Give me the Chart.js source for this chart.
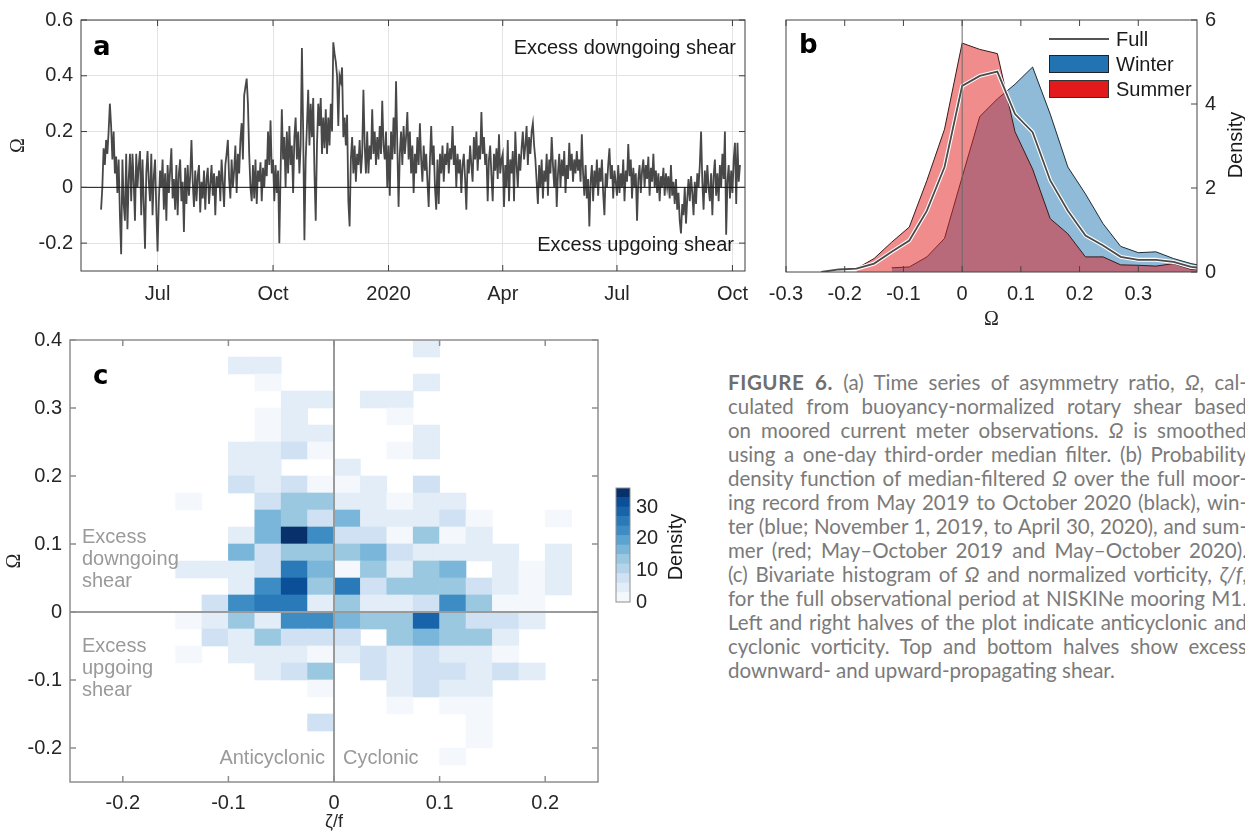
<!DOCTYPE html>
<html>
<head>
<meta charset="utf-8">
<script src="https://cdn.jsdelivr.net/npm/chart.js@4.4.1/dist/chart.umd.min.js"></script>
<style>
  body { margin: 0; width: 1245px; height: 833px; background: #fff; position: relative; overflow: hidden;
         font-family: 'Liberation Sans', Arial, sans-serif; color: #1a1a1a; }
  canvas { position: absolute; }
  .t { position: absolute; white-space: nowrap; font-size: 20px; line-height: 22px; }
  .panel { font-family: 'DejaVu Sans', sans-serif; font-weight: bold; font-size: 26px; line-height: 28px; color: #000; }
  .gray { color: #9a9a9a; }
  .vert { transform: rotate(-90deg); transform-origin: center center; }
  #caption { position: absolute; left: 728px; top: 370px; width: 519px; font-family: Lato, 'Open Sans', sans-serif;
             font-size: 20.5px; color: #7a7a7a; }
  #caption .ln { height: 24px; line-height: 24px; overflow: hidden; text-align: justify; text-align-last: justify; }
  #caption .ln.last { text-align-last: left; }
  #caption b { color: #6e6e6e; letter-spacing: 0.6px; }
</style>
</head>
<body>

<canvas id="chartA" width="760" height="310" style="left:0;top:0"></canvas>
<canvas id="chartB" width="490" height="335" style="left:755px;top:0"></canvas>
<canvas id="chartC" width="610" height="513" style="left:0;top:320px"></canvas>
<canvas id="chartBar" width="100" height="150" style="left:610px;top:470px"></canvas>

<!-- panel a annotations -->
<div class="t panel" style="left:93px;top:32px">a</div>
<div class="t" style="left:436px;top:36px;width:300px;text-align:right">Excess downgoing shear</div>
<div class="t" style="left:436px;top:233px;width:298px;text-align:right">Excess upgoing shear</div>

<!-- panel b annotations -->
<div class="t panel" style="left:799px;top:30px">b</div>
<div style="position:absolute;left:1049px;top:38px;width:60px;height:2px;background:#555"></div>
<div class="t" style="left:1116px;top:28px">Full</div>
<div style="position:absolute;left:1049px;top:55px;width:58px;height:16px;background:#2173b2;border:1px solid #222"></div>
<div class="t" style="left:1116px;top:53px">Winter</div>
<div style="position:absolute;left:1049px;top:80px;width:58px;height:16px;background:#e31a1c;border:1px solid #333"></div>
<div class="t" style="left:1116px;top:78px">Summer</div>
<div class="t vert" style="left:1200px;top:134px;width:70px;text-align:center">Density</div>

<!-- panel c annotations -->
<div class="t panel" style="left:93px;top:361px">c</div>
<div class="t gray" style="left:82px;top:525px">Excess<br>downgoing<br>shear</div>
<div class="t gray" style="left:82px;top:634px">Excess<br>upgoing<br>shear</div>
<div class="t gray" style="left:125px;top:746px;width:200px;text-align:right">Anticyclonic</div>
<div class="t gray" style="left:343px;top:746px">Cyclonic</div>
<div class="t vert" style="left:640px;top:536px;width:70px;text-align:center">Density</div>

<div id="caption">
  <div class="ln"><b>FIGURE 6.</b> (a) Time series of asymmetry ratio, <i>Ω</i>, cal-</div>
  <div class="ln">culated from buoyancy-normalized rotary shear based</div>
  <div class="ln">on moored current meter observations. <i>Ω</i> is smoothed</div>
  <div class="ln">using a one-day third-order median filter. (b) Probability</div>
  <div class="ln">density function of median-filtered <i>Ω</i> over the full moor-</div>
  <div class="ln">ing record from May 2019 to October 2020 (black), win-</div>
  <div class="ln">ter (blue; November 1, 2019, to April 30, 2020), and sum-</div>
  <div class="ln">mer (red; May–October 2019 and May–October 2020).</div>
  <div class="ln">(c) Bivariate histogram of <i>Ω</i> and normalized vorticity, <i>ζ/f</i>,</div>
  <div class="ln">for the full observational period at NISKINe mooring M1.</div>
  <div class="ln">Left and right halves of the plot indicate anticyclonic and</div>
  <div class="ln">cyclonic vorticity. Top and bottom halves show excess</div>
  <div class="ln last">downward- and upward-propagating shear.</div>
</div>

<script>
// ---------- panel a: daily Ω, one array per month (first value is 17 May 2019)
const omegaMay19 = [-0.08, 0.0, 0.14, 0.08, 0.17, 0.12, 0.2, 0.3, 0.22, 0.1, 0.2, 0.05, 0.11, -0.02, 0.1];
const omegaJun19 = [-0.1, -0.24, 0.1, -0.06, -0.12, 0.12, -0.15, 0.03, 0.12, -0.05, 0.12, 0.02, -0.12, 0.12, 0.0,
                    0.08, 0.13, -0.1, 0.1, -0.06, -0.22, 0.05, 0.13, 0.02, -0.05, 0.12, -0.1, 0.04, 0.1, -0.08];
const omegaJul19 = [-0.23, -0.05, 0.06, 0.0, 0.1, -0.08, 0.05, -0.12, 0.08, -0.02, 0.06, 0.14, -0.04, 0.03, -0.08,
                    0.08, -0.1, 0.05, 0.1, -0.05, 0.02, -0.16, 0.07, -0.06, 0.08, -0.03, 0.04, 0.17, 0.02, -0.07, 0.06];
const omegaAug19 = [-0.05, 0.04, 0.08, -0.09, 0.02, -0.04, 0.06, -0.08, 0.03, 0.07, -0.06, 0.01, 0.08, -0.03, 0.05,
                    -0.1, 0.04, 0.0, 0.06, -0.05, 0.1, 0.02, -0.07, 0.08, 0.12, 0.17, 0.03, -0.04, 0.1, 0.0, 0.06];
const omegaSep19 = [0.15, -0.02, 0.12, 0.05, 0.17, 0.23, 0.1, 0.33, 0.36, 0.39, 0.3, 0.12, 0.0, -0.05, 0.08,
                    -0.04, 0.1, -0.06, 0.06, 0.02, 0.09, -0.05, 0.07, 0.0, 0.1, 0.04, 0.2, 0.08, 0.24, 0.05];
const omegaOct19 = [0.1, -0.05, 0.08, -0.02, 0.06, -0.2, 0.05, 0.28, 0.1, 0.18, 0.0, 0.2, 0.05, 0.22, 0.08,
                    0.15, -0.02, 0.18, 0.25, 0.1, 0.2, 0.05, 0.15, 0.5, 0.2, -0.19, 0.1, 0.22, 0.35, 0.15, 0.3];
const omegaNov19 = [0.18, 0.32, 0.05, -0.12, 0.15, 0.3, 0.22, 0.32, 0.12, 0.25, 0.14, 0.28, 0.12, 0.25, 0.15,
                    0.3, 0.2, 0.52, 0.48, 0.45, 0.4, 0.22, 0.4, 0.38, 0.43, 0.18, 0.25, 0.15, 0.26, -0.05];
const omegaDec19 = [-0.14, 0.1, 0.18, 0.05, 0.15, 0.02, 0.12, 0.08, 0.17, 0.05, 0.12, 0.35, 0.15, 0.05, 0.2,
                    0.05, 0.15, 0.1, 0.28, 0.12, 0.2, 0.08, 0.18, 0.1, 0.22, 0.12, 0.31, 0.15, 0.1, 0.2, 0.0];
const omegaJan20 = [0.15, -0.03, 0.2, 0.1, 0.25, 0.12, 0.38, 0.15, -0.07, 0.12, 0.2, 0.08, 0.22, 0.12, 0.18,
                    0.27, 0.1, 0.2, 0.05, 0.15, -0.02, 0.12, 0.05, 0.18, 0.08, 0.23, 0.1, 0.02, 0.15, 0.06, 0.12];
const omegaFeb20 = [0.02, -0.07, 0.1, 0.22, 0.08, 0.15, 0.0, -0.08, 0.1, -0.06, 0.12, 0.05, 0.15, 0.02, 0.12,
                    0.08, 0.16, 0.05, 0.14, 0.1, 0.22, 0.08, 0.15, 0.0, 0.12, 0.05, 0.1, -0.02, 0.08];
const omegaMar20 = [0.12, 0.03, -0.08, 0.1, 0.05, 0.15, 0.08, 0.02, 0.18, 0.1, 0.2, 0.06, 0.15, 0.1, 0.27,
                    0.12, 0.18, 0.08, 0.12, -0.05, 0.1, 0.15, 0.04, -0.05, 0.12, 0.06, 0.14, 0.03, 0.19, 0.05, 0.1];
const omegaApr20 = [0.12, -0.07, 0.08, 0.0, 0.17, -0.05, 0.1, 0.05, 0.13, -0.05, 0.2, 0.08, 0.0, 0.12, 0.06,
                    0.14, 0.2, 0.1, 0.15, 0.22, 0.08, 0.18, 0.12, 0.2, 0.23, 0.15, 0.1, 0.02, -0.06, 0.08];
const omegaMay20 = [0.0, 0.1, -0.04, 0.06, 0.02, 0.12, -0.03, 0.1, 0.05, 0.18, 0.08, 0.0, 0.1, -0.07, 0.05,
                    0.12, 0.0, 0.1, 0.04, 0.13, -0.02, 0.08, 0.03, 0.16, 0.06, 0.12, 0.02, 0.1, 0.05, 0.13, 0.06];
const omegaJun20 = [0.1, 0.02, 0.19, 0.05, -0.03, 0.08, -0.04, 0.03, -0.14, 0.02, 0.08, -0.05, 0.06, 0.0, 0.1,
                    -0.03, 0.07, 0.02, 0.1, -0.02, -0.1, 0.05, 0.0, 0.08, 0.14, 0.03, 0.08, -0.04, 0.06, 0.02];
const omegaJul20 = [-0.03, 0.08, -0.02, 0.05, 0.0, 0.1, -0.05, 0.06, 0.02, 0.155, 0.04, 0.1, -0.04, 0.07, 0.0,
                    0.05, -0.12, 0.03, 0.08, -0.02, 0.06, 0.1, 0.0, 0.08, 0.03, 0.11, -0.03, 0.07, 0.02, 0.12, 0.0];
const omegaAug20 = [0.06, -0.02, 0.05, -0.05, 0.04, 0.0, 0.07, -0.03, 0.05, 0.0, 0.04, -0.04, 0.08, -0.03, 0.02,
                    -0.06, 0.03, -0.08, -0.02, -0.12, -0.165, -0.06, -0.1, 0.0, -0.13, -0.04, 0.03, -0.05, 0.04, -0.02, -0.1];
const omegaSep20 = [0.02, -0.06, 0.05, 0.0, 0.08, 0.2, 0.02, -0.08, 0.06, -0.02, 0.08, 0.0, -0.05, 0.05, -0.1,
                    0.04, 0.1, -0.03, 0.05, -0.05, 0.08, 0.0, 0.12, 0.03, 0.2, -0.17, 0.02, 0.08, -0.04, 0.06];
const omegaOct20 = [-0.02, 0.1, 0.16, -0.06, 0.16, 0.02, 0.08];

const firstDay = 16; // days since 1 May 2019
const dayTicks = [61, 153, 245, 336, 427, 519];
const dayTickLabels = ['Jul', 'Oct', '2020', 'Apr', 'Jul', 'Oct'];
const omegaTicksA = [-0.2, 0, 0.2, 0.4, 0.6];

// ---------- panel b: PDFs of Ω
const pdfBins   = [-0.24, -0.21, -0.18, -0.15, -0.12, -0.09, -0.06, -0.03, 0, 0.03, 0.06, 0.09,
                   0.12, 0.15, 0.18, 0.21, 0.24, 0.27, 0.3, 0.33, 0.36, 0.39, 0.42];
const pdfFull   = [0, 0.06, 0.08, 0.2, 0.48, 0.75, 1.46, 2.5, 4.43, 4.67, 4.77, 3.76,
                   3.33, 2.18, 1.46, 0.87, 0.63, 0.36, 0.29, 0.29, 0.24, 0.12, 0.08];
const pdfWinter = [null, null, null, null, 0.1, 0.12, 0.36, 0.8, 2.26, 3.7, 4.12, 4.47,
                   4.88, 3.76, 2.5, 1.86, 1.15, 0.61, 0.46, 0.48, 0.32, 0.2, 0.12];
const pdfSummer = [null, null, 0.08, 0.32, 0.71, 1.07, 2.18, 3.4, 5.45, 5.3, 5.2, 3.34,
                   2.45, 1.27, 0.91, 0.36, 0.36, 0.17, 0.16, 0.14, 0.2, 0.06, 0.04];
const pdfTicksX = [-0.3, -0.2, -0.1, 0, 0.1, 0.2, 0.3];
const pdfTicksY = [0, 2, 4, 6];

// ---------- panel c: bivariate histogram (rows top to bottom, columns left to right)
const vortBinLeft = [-0.25, -0.225, -0.2, -0.175, -0.15, -0.125, -0.1, -0.075, -0.05, -0.025,
                     0, 0.025, 0.05, 0.075, 0.1, 0.125, 0.15, 0.175, 0.2, 0.225];
const omegaBinBottom = [0.375, 0.35, 0.325, 0.3, 0.275, 0.25, 0.225, 0.2, 0.175, 0.15, 0.125, 0.1, 0.075,
                        0.05, 0.025, 0, -0.025, -0.05, -0.075, -0.1, -0.125, -0.15, -0.175, -0.2, -0.225, -0.25];
const binWidth = 0.025;
const histDensity = [
  [0,0,0,0, 0,0,0,0,0,0,     0,0,0,4,0,0,0,0,0,0],
  [0,0,0,0, 0,0,4,4,0,0,     0,0,0,0,0,0,0,0,0,0],
  [0,0,0,0, 0,0,0,1.5,0,0,   0,0,0,4,0,0,0,0,0,0],
  [0,0,0,0, 0,0,0,0,4,4,     0,4,4,0,0,0,0,0,0,0],
  [0,0,0,0, 0,0,0,1.5,4,0,   0,0,1.5,0,0,0,0,0,0,0],
  [0,0,0,0, 0,0,0,1.5,4,4,   0,0,0,4,0,0,0,0,0,0],
  [0,0,0,0, 0,0,4,4,7,1.5,   0,0,1.5,4,0,0,0,0,0,0],
  [0,0,0,0, 0,0,4,4,0,0,     4,0,0,0,0,0,0,0,0,0],
  [0,0,0,0, 0,0,7,4,7,1.5,   1.5,4,0,7,0,0,0,0,0,0],
  [0,0,0,0, 1.5,0,0,7,13,13, 4,4,1.5,4,4,0,0,0,0,0],
  [0,0,0,0, 0,0,0,17,13,7,   17,4,4,4,7,1.5,0,0,1.5,0],
  [0,0,0,0, 0,0,4,17,35,23,  8,8,1.5,13,1.5,4,0,0,0,0],
  [0,0,0,0, 0,0,17,7,13,13,  13,17,7,4,4,4,4,0,4,0],
  [0,0,0,0, 4,4,4,7,26,17,   2.5,13,4,13,17,0,4,1.5,4,0],
  [0,0,0,0, 0,0,4,23,31,13,  26,7,13,13,13,8,4,1.5,4,0],
  [0,0,0,0, 0,7,22,26,26,4,  13,4,4,7,22,13,1.5,1.5,0,0],
  [0,0,0,0, 1.5,4,13,4,23,22, 17,13,13,27,13,7,7,4,0,0],
  [0,0,0,0, 0,7,4,13,7,7,    7,0,13,17,13,13,4,0,0,0],
  [0,0,0,0, 1.5,0,4,4,4,1.5, 4,7,4,7,4,4,1.5,0,0,0],
  [0,0,0,0, 0,0,0,4,7,13,    0,7,4,7,7,4,7,4,0,0],
  [0,0,0,0, 0,0,0,0,0,1.5,   0,0,4,7,4,4,0,0,0,0],
  [0,0,0,0, 0,0,0,0,0,0,     0,0,1.5,0,1.5,1.5,0,0,0,0],
  [0,0,0,0, 0,0,0,0,0,7,     0,0,0,0,0,1.5,0,0,0,0],
  [0,0,0,0, 0,0,0,0,0,0,     0,0,0,0,0,1.5,0,0,0,0],
  [0,0,0,0, 0,0,0,0,0,0,     0,0,0,0,1.5,0,0,0,0,0],
  [0,0,0,0, 0,0,0,0,0,0,     0,0,0,0,0,0,0,0,0,0]
];
const vortTicks = [-0.2, -0.1, 0, 0.1, 0.2];
const omegaTicksC = [-0.2, -0.1, 0, 0.1, 0.2, 0.3, 0.4];

// ---------- colour bar
const densityLevels = [0, 3, 6, 9, 12, 15, 18, 21, 24, 27, 30, 33, 36];
const densityColors = ['#f4f8fd', '#e2edf8', '#cfe1f2', '#b5d4e9', '#9ac8e0', '#7ab6d9',
                       '#5ba3d0', '#3d8dc4', '#2a7ab9', '#1764ab', '#0a4f97', '#08306b'];
const densityTicks = [0, 10, 20, 30];

const tickFont = { family: "'Liberation Sans', Arial, sans-serif", size: 20 };
const serifFont = { family: "'Liberation Serif', 'DejaVu Serif', serif", size: 20 };
const tickColor = '#262626';
const fmt = v => String(Math.round(v * 10) / 10);

function fixedTicks(values) {
    return scale => { scale.ticks = values.map(v => ({ value: v })); };
}

// box around the plot, inward tick marks, zero lines
function axesFrame(opts) {
    return {
        id: 'axesFrame',
        afterDatasetsDraw(chart) {
            const { ctx, chartArea: a } = chart;
            ctx.save();
            (opts.zeroLines || []).forEach(z => {
                const p = chart.scales[z.axis].getPixelForValue(0);
                ctx.strokeStyle = z.color;
                ctx.lineWidth = z.width;
                ctx.beginPath();
                if (z.axis === 'x') { ctx.moveTo(p, a.top); ctx.lineTo(p, a.bottom); }
                else { ctx.moveTo(a.left, p); ctx.lineTo(a.right, p); }
                ctx.stroke();
            });
            ctx.restore();
        },
        afterDraw(chart) {
            const { ctx, chartArea: a } = chart;
            const len = 6;
            ctx.save();
            ctx.strokeStyle = opts.color;
            ctx.lineWidth = opts.width || 1;
            ctx.strokeRect(a.left, a.top, a.right - a.left, a.bottom - a.top);
            ctx.beginPath();
            const xs = chart.scales.x;
            xs.ticks.forEach(t => {
                const p = xs.getPixelForValue(t.value);
                ctx.moveTo(p, a.bottom); ctx.lineTo(p, a.bottom - len);
                ctx.moveTo(p, a.top); ctx.lineTo(p, a.top + len);
            });
            const ys = chart.scales.y;
            ys.ticks.forEach(t => {
                const p = ys.getPixelForValue(t.value);
                if (opts.ySides.includes('left')) { ctx.moveTo(a.left, p); ctx.lineTo(a.left + len, p); }
                if (opts.ySides.includes('right')) { ctx.moveTo(a.right, p); ctx.lineTo(a.right - len, p); }
            });
            ctx.stroke();
            ctx.restore();
        }
    };
}

const baseOptions = {
    responsive: false,
    animation: false,
    events: [],
    plugins: { legend: { display: false }, tooltip: { enabled: false } }
};

// ---------- panel a
const monthlyOmega = [omegaMay19, omegaJun19, omegaJul19, omegaAug19, omegaSep19, omegaOct19,
                      omegaNov19, omegaDec19, omegaJan20, omegaFeb20, omegaMar20, omegaApr20,
                      omegaMay20, omegaJun20, omegaJul20, omegaAug20, omegaSep20, omegaOct20];
const omegaSeries = [].concat(...monthlyOmega).map((v, i) => ({ x: firstDay + i, y: v }));

new Chart(document.getElementById('chartA'), {
    type: 'line',
    data: { datasets: [{ data: omegaSeries, borderColor: '#484848', borderWidth: 1.8, pointRadius: 0, tension: 0 }] },
    options: {
        ...baseOptions,
        layout: { padding: { left: 0, top: 19, right: 15, bottom: 0 } },
        scales: {
            x: {
                type: 'linear', min: 0, max: 529,
                afterBuildTicks: fixedTicks(dayTicks),
                afterFit: s => { s.height = 39; },
                ticks: { callback: v => dayTickLabels[dayTicks.indexOf(v)], font: tickFont, color: tickColor,
                         padding: 11, maxRotation: 0, autoSkip: false },
                grid: { color: '#e3e3e3', drawTicks: false },
                border: { display: false }
            },
            y: {
                min: -0.3, max: 0.6,
                afterBuildTicks: fixedTicks(omegaTicksA),
                afterFit: s => { s.width = 81; },
                ticks: { callback: fmt, font: tickFont, color: tickColor, padding: 8, autoSkip: false },
                grid: { color: '#e3e3e3', drawTicks: false },
                border: { display: false },
                title: { display: true, text: 'Ω', font: serifFont, color: tickColor, padding: { top: 7 } }
            }
        }
    },
    plugins: [axesFrame({ color: '#3c3c3c', ySides: ['left', 'right'], zeroLines: [{ axis: 'y', color: '#111', width: 1 }] })]
});

// ---------- panel b
const toPoints = arr => arr.map((v, i) => ({ x: pdfBins[i], y: v }));

new Chart(document.getElementById('chartB'), {
    type: 'line',
    data: {
        datasets: [
            { data: toPoints(pdfWinter), borderColor: '#1e2a33', borderWidth: 1, backgroundColor: 'rgba(31,119,180,0.5)',
              fill: 'origin', pointRadius: 0, tension: 0, order: 4 },
            { data: toPoints(pdfSummer), borderColor: '#3a1a1a', borderWidth: 1, backgroundColor: 'rgba(228,26,28,0.5)',
              fill: 'origin', pointRadius: 0, tension: 0, order: 3 },
            { data: toPoints(pdfFull), borderColor: '#ffffff', borderWidth: 4, pointRadius: 0, tension: 0, order: 2 },
            { data: toPoints(pdfFull), borderColor: '#4a4a4a', borderWidth: 1.8, pointRadius: 0, tension: 0, order: 1 }
        ]
    },
    options: {
        ...baseOptions,
        layout: { padding: { left: 31, top: 19, right: 0, bottom: 0 } },
        scales: {
            x: {
                type: 'linear', min: -0.3, max: 0.4,
                afterBuildTicks: fixedTicks(pdfTicksX),
                afterFit: s => { s.height = 63; },
                ticks: { callback: fmt, font: tickFont, color: tickColor, padding: 10, maxRotation: 0, autoSkip: false },
                grid: { display: false, drawTicks: false },
                border: { display: false },
                title: { display: true, text: 'Ω', font: serifFont, color: tickColor, padding: { bottom: 3 } }
            },
            y: {
                position: 'right', min: 0, max: 6,
                afterBuildTicks: fixedTicks(pdfTicksY),
                afterFit: s => { s.width = 48; },
                ticks: { callback: fmt, font: tickFont, color: tickColor, padding: 8 },
                grid: { display: false, drawTicks: false },
                border: { display: false }
            }
        }
    },
    plugins: [axesFrame({ color: '#444', ySides: ['right'], zeroLines: [{ axis: 'x', color: '#6a6a6a', width: 1 }] })]
});

// ---------- panel c
const histCells = [];
histDensity.forEach((row, r) => row.forEach((v, k) => {
    if (v > 0) {
        histCells.push({ x: [vortBinLeft[k], vortBinLeft[k] + binWidth], y: omegaBinBottom[r] + binWidth / 2, v: v });
    }
}));
const colorFor = v => densityColors[Math.min(densityColors.length - 1, Math.floor(v / 3))];

new Chart(document.getElementById('chartC'), {
    type: 'bar',
    data: {
        datasets: [{
            data: histCells,
            backgroundColor: c => (c.raw ? colorFor(c.raw.v) : '#fff'),
            borderWidth: 0, barPercentage: 1, categoryPercentage: 1
        }]
    },
    options: {
        ...baseOptions,
        indexAxis: 'y',
        layout: { padding: { left: 0, top: 20, right: 12, bottom: 0 } },
        scales: {
            x: {
                type: 'linear', min: -0.25, max: 0.25,
                afterBuildTicks: fixedTicks(vortTicks),
                afterFit: s => { s.height = 51; },
                ticks: { callback: fmt, font: tickFont, color: tickColor, padding: 9, maxRotation: 0, autoSkip: false },
                grid: { display: false, drawTicks: false },
                border: { display: false },
                title: { display: true, text: 'ζ/f', font: { family: tickFont.family, size: 18 }, color: tickColor,
                         padding: { bottom: 0 } }
            },
            y: {
                type: 'linear', min: -0.25, max: 0.4, offset: false,
                afterBuildTicks: fixedTicks(omegaTicksC),
                afterFit: s => { s.width = 70; },
                ticks: { callback: fmt, font: tickFont, color: tickColor, padding: 8, autoSkip: false },
                grid: { display: false, drawTicks: false, offset: false },
                border: { display: false },
                title: { display: true, text: 'Ω', font: serifFont, color: tickColor, padding: { top: 3 } }
            }
        }
    },
    plugins: [axesFrame({ color: '#8f8f8f', width: 1.5, ySides: ['left', 'right'],
        zeroLines: [{ axis: 'x', color: '#9a9a9a', width: 2 }, { axis: 'y', color: '#9a9a9a', width: 2 }] })]
});

// ---------- colour bar
new Chart(document.getElementById('chartBar'), {
    type: 'bar',
    data: {
        labels: ['Density'],
        datasets: densityColors.map((c, i) => ({
            data: [densityLevels[i + 1] - densityLevels[i]], backgroundColor: c,
            borderWidth: 0, barPercentage: 1, categoryPercentage: 1
        }))
    },
    options: {
        ...baseOptions,
        layout: { padding: { left: 6, top: 17, right: 0, bottom: 15 } },
        scales: {
            x: { display: false, stacked: true },
            y: {
                stacked: true, position: 'right', min: 0, max: 36,
                afterBuildTicks: fixedTicks(densityTicks),
                afterFit: s => { s.width = 80; },
                ticks: { callback: v => String(v), font: tickFont, color: tickColor, padding: 6 },
                grid: { display: false, drawTicks: false },
                border: { display: false }
            }
        }
    },
    plugins: [{
        id: 'barFrame',
        afterDraw(chart) {
            const { ctx, chartArea: a } = chart;
            ctx.save();
            ctx.strokeStyle = '#8f8f8f';
            ctx.lineWidth = 1;
            ctx.strokeRect(a.left, a.top, a.right - a.left, a.bottom - a.top);
            ctx.restore();
        }
    }]
});
</script>
</body>
</html>
